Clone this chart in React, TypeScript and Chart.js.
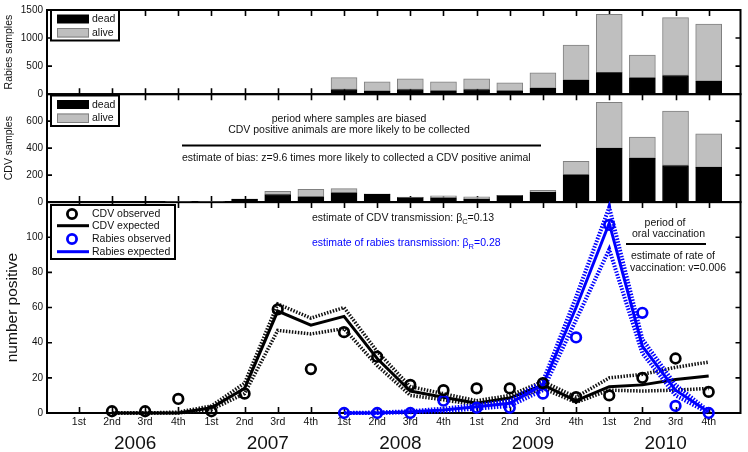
import React, { useEffect, useRef } from 'react';
import { Chart, registerables } from 'chart.js';
Chart.register(...registerables);

const FONT = '"Liberation Sans", Arial, Helvetica, sans-serif';

// x index 0 = 2006 1st quarter ... 19 = 2010 4th quarter
const QUARTERS = ['1st', '2nd', '3rd', '4th', '1st', '2nd', '3rd', '4th', '1st', '2nd', '3rd', '4th', '1st', '2nd', '3rd', '4th', '1st', '2nd', '3rd', '4th'];
const YEARS = ['2006', '2007', '2008', '2009', '2010'];

const RABIES_TICKS = [0, 500, 1000, 1500];
const CDV_TICKS = [0, 200, 400, 600];
const POS_TICKS = [0, 20, 40, 60, 80, 100];

// top panel: rabies samples
const RABIES_DEAD = [null, null, null, null, null, null, null, null, 83, 53, 83, 60, 83, 60, 106, 248, 385, 291, 332, 230];
const RABIES_ALIVE = [null, null, null, null, null, null, null, null, 213, 167, 190, 160, 190, 140, 274, 628, 1040, 407, 1033, 1018];

// middle panel: CDV samples
const CDV_DEAD = [0, 0, 0, 3, 3, 22, 56, 39, 68, 58, 33, 32, 22, 48, 73, 203, 398, 325, 271, 257];
const CDV_ALIVE = [0, 0, 0, 1, 1, 1, 24, 56, 32, 4, 5, 14, 17, 2, 15, 100, 342, 156, 403, 249];

// bottom panel: number positive
const CDV_OBS = [null, 1, 1, 8, 1, 11, 59, 25, 46, 32, 16, 13, 14, 14, 17, 9, 10, 20, 31, 12];
const CDV_EXP = [null, 0, 0, 0, 3, 14, 58, 50, 55, 31, 12.5, 9, 5.5, 8.5, 16, 7, 15, 16, 19, 21];
const CDV_UP = [null, 0, 0, 0.5, 4, 17, 62, 54, 60, 35, 15, 11, 7, 10, 18, 9, 20, 22, 26, 29];
const CDV_LO = [null, 0, 0, 0, 2, 11, 47, 45, 48, 27, 10, 7.5, 4.5, 7, 14, 6, 13, 12.5, 13, 14];

const RAB_OBS = [null, null, null, null, null, null, null, null, 0, 0, 0, 7, 3, 3, 11, 43, 107, 57, 4, 0];
const RAB_EXP = [null, null, null, null, null, null, null, null, 0, 0, 0.7, 1.7, 3.5, 5.5, 16, 60, 108, 38, 13, 0.5];
const RAB_UP = [null, null, null, null, null, null, null, null, 0, 0.3, 1, 2.5, 4.5, 7, 18, 66, 117, 42, 16, 1];
const RAB_LO = [null, null, null, null, null, null, null, null, 0, 0, 0.4, 1, 2.5, 4, 13, 53, 93, 34, 10, 0];

const BLUE = '#0000ff';
const GREY = '#bfbfbf';

function pts(arr: (number | null)[]) {
  const out: { x: number; y: number }[] = [];
  arr.forEach((v, i) => { if (v !== null) out.push({ x: i, y: v }); });
  return out;
}

function txt(ctx: CanvasRenderingContext2D, s: string, x: number, y: number, size: number, color: string, align: CanvasTextAlign = 'left') {
  ctx.font = `${size}px ${FONT}`;
  ctx.fillStyle = color;
  ctx.textAlign = align;
  ctx.textBaseline = 'middle';
  ctx.fillText(s, x, y);
  return ctx.measureText(s).width;
}

function subText(ctx: CanvasRenderingContext2D, a: string, sub: string, b: string, x: number, y: number, size: number, color: string) {
  let cx = x;
  cx += txt(ctx, a, cx, y, size, color);
  cx += txt(ctx, sub, cx, y + 3.5, size * 0.72, color);
  txt(ctx, b, cx, y, size, color);
}

function hline(ctx: CanvasRenderingContext2D, x1: number, x2: number, y: number, w: number) {
  ctx.beginPath();
  ctx.lineWidth = w;
  ctx.strokeStyle = '#000';
  ctx.moveTo(x1, y);
  ctx.lineTo(x2, y);
  ctx.stroke();
}

const framePlugin = {
  id: 'frames',
  beforeDatasetsDraw(chart: any) {
    const ctx: CanvasRenderingContext2D = chart.ctx;
    const xs = chart.scales.x;
    const { left, right } = chart.chartArea;
    ctx.save();
    ctx.strokeStyle = '#000';
    for (const id of ['yR', 'yC', 'yN']) {
      const ys = chart.scales[id];
      const top = ys.top, bottom = ys.bottom;
      ctx.lineWidth = 2;
      ctx.strokeRect(left, top, right - left, bottom - top);
      ctx.lineWidth = 1.6;
      ctx.beginPath();
      for (let i = 0; i < QUARTERS.length; i++) {
        const px = Math.round(xs.getPixelForValue(i)) + 0.5;
        ctx.moveTo(px, top); ctx.lineTo(px, top + 6);
        ctx.moveTo(px, bottom); ctx.lineTo(px, bottom - 6);
      }
      for (const t of ys.ticks) {
        const py = ys.getPixelForValue(t.value);
        ctx.moveTo(left, py); ctx.lineTo(left + 5, py);
        ctx.moveTo(right, py); ctx.lineTo(right - 5, py);
      }
      ctx.stroke();
    }
    ctx.restore();
  },
  afterDraw(chart: any) {
    const ctx: CanvasRenderingContext2D = chart.ctx;
    ctx.save();
    const fs = 10.5;
    const legendBars = (y0: number, y1: number) => {
      ctx.fillStyle = '#fff';
      ctx.fillRect(51, y0, 68, y1 - y0);
      ctx.lineWidth = 2;
      ctx.strokeStyle = '#000';
      ctx.strokeRect(51, y0, 68, y1 - y0);
      ctx.fillStyle = '#000';
      ctx.fillRect(57, y0 + 4.5, 32, 9);
      ctx.fillStyle = GREY;
      ctx.fillRect(57, y0 + 18, 32, 9.5);
      ctx.lineWidth = 1;
      ctx.strokeStyle = '#808080';
      ctx.strokeRect(57.5, y0 + 18.5, 31, 8.5);
      txt(ctx, 'dead', 92, y0 + 9.5, fs, '#111');
      txt(ctx, 'alive', 92, y0 + 22.8, fs, '#111');
    };
    legendBars(10, 40.5);
    legendBars(95.5, 126);

    ctx.fillStyle = '#fff';
    ctx.fillRect(51, 205, 124, 54);
    ctx.lineWidth = 2;
    ctx.strokeStyle = '#000';
    ctx.strokeRect(51, 205, 124, 54);
    const circ = (y: number, c: string) => {
      ctx.beginPath();
      ctx.lineWidth = 2.8;
      ctx.strokeStyle = c;
      ctx.arc(72, y, 4.6, 0, Math.PI * 2);
      ctx.stroke();
    };
    const ln = (y: number, c: string) => {
      ctx.beginPath();
      ctx.lineWidth = 3;
      ctx.strokeStyle = c;
      ctx.moveTo(57, y); ctx.lineTo(89, y);
      ctx.stroke();
    };
    circ(214, '#000');
    ln(225.7, '#000');
    circ(239, BLUE);
    ln(251.7, BLUE);
    txt(ctx, 'CDV observed', 92, 214, fs, '#111');
    txt(ctx, 'CDV expected', 92, 225.7, fs, '#111');
    txt(ctx, 'Rabies observed', 92, 239, fs, '#111');
    txt(ctx, 'Rabies expected', 92, 251.7, fs, '#111');

    txt(ctx, 'period where samples are biased', 349, 119, fs, '#111', 'center');
    txt(ctx, 'CDV positive animals are more likely to be collected', 349, 130.5, fs, '#111', 'center');
    hline(ctx, 182, 541, 145.5, 2);
    txt(ctx, 'estimate of bias: z=9.6 times more likely to collected a CDV positive animal', 182, 158, fs, '#111');

    subText(ctx, 'estimate of CDV transmission: \u03b2', 'C', '=0.13', 312, 218.5, fs, '#111');
    subText(ctx, 'estimate of rabies transmission: \u03b2', 'R', '=0.28', 312, 243, fs, BLUE);
    txt(ctx, 'period of', 665, 223.5, fs, '#111', 'center');
    txt(ctx, 'oral vaccination', 668.5, 234.5, fs, '#111', 'center');
    hline(ctx, 626, 706, 244, 2);
    txt(ctx, 'estimate of rate of', 631, 256.5, fs, '#111');
    txt(ctx, 'vaccination: v=0.006', 630, 268.5, fs, '#111');
    ctx.restore();
  },
};

const tickFont = { family: FONT, size: 10 };

function yScale(opts: any) {
  const { ticksArr, ...rest } = opts;
  return {
    type: 'linear',
    position: 'left',
    stack: 'panels',
    afterBuildTicks: (s: any) => { s.ticks = ticksArr.map((v: number) => ({ value: v })); },
    afterFit: (s: any) => { s.width = 47; },
    ticks: { padding: 4, color: '#111', font: tickFont, autoSkip: false, callback: (v: any) => String(v) },
    grid: { display: false, drawTicks: false },
    border: { display: false },
    ...rest,
  };
}

export default function App() {
  const ref = useRef<HTMLCanvasElement>(null);
  useEffect(() => {
    const band = (data: (number | null)[], color: string, w: number, order: number) => ({
      type: 'line', data: pts(data), yAxisID: 'yN', borderColor: color, borderWidth: w,
      borderDash: [1.5, 1.5], pointRadius: 0, fill: false, tension: 0, clip: false, order,
    });
    const mid = (data: (number | null)[], color: string, order: number) => ({
      type: 'line', data: pts(data), yAxisID: 'yN', borderColor: color, borderWidth: 3,
      pointRadius: 0, fill: false, tension: 0, clip: false, order,
    });
    const obs = (data: (number | null)[], color: string, order: number) => ({
      type: 'line', data: pts(data), yAxisID: 'yN', showLine: false, pointRadius: 4.8,
      pointBorderWidth: 2.7, pointBorderColor: color, pointBackgroundColor: 'rgba(0,0,0,0)',
      borderColor: color, clip: false, order,
    });
    const bar = (data: (number | null)[], axis: string, stack: string, bg: string, bc: string) => ({
      type: 'bar', data: pts(data), yAxisID: axis, stack, backgroundColor: bg, borderColor: bc,
      borderWidth: 1, borderSkipped: false, grouped: false, barThickness: 26, order: 20,
    });
    const chart = new Chart(ref.current as HTMLCanvasElement, {
      type: 'bar',
      data: {
        datasets: [
          obs(CDV_OBS, '#000', 0),
          obs(RAB_OBS, BLUE, 0),
          mid(RAB_EXP, BLUE, 2),
          band(RAB_UP, BLUE, 4, 3),
          band(RAB_LO, BLUE, 4, 3),
          mid(CDV_EXP, '#000', 4),
          band(CDV_UP, '#111', 3.5, 5),
          band(CDV_LO, '#111', 3.5, 5),
          bar(RABIES_DEAD, 'yR', 'r', '#000', '#000'),
          bar(RABIES_ALIVE, 'yR', 'r', GREY, '#808080'),
          bar(CDV_DEAD, 'yC', 'c', '#000', '#000'),
          bar(CDV_ALIVE, 'yC', 'c', GREY, '#808080'),
        ] as any,
      },
      options: {
        animation: false,
        responsive: false,
        maintainAspectRatio: false,
        devicePixelRatio: 1,
        layout: { padding: { top: 6, right: 5, left: 0, bottom: 0 } },
        plugins: { legend: { display: false }, tooltip: { enabled: false } },
        scales: {
          x: {
            type: 'linear', position: 'bottom', min: -0.96, max: 19.96, offset: false, weight: 0,
            afterBuildTicks: (s: any) => { s.ticks = QUARTERS.map((_, i) => ({ value: i })); },
            afterFit: (s: any) => { s.height = 16; },
            ticks: { autoSkip: false, maxRotation: 0, padding: 3, color: '#111', font: { family: FONT, size: 10.5 },
              callback: (_v: any, i: number) => QUARTERS[i] },
            grid: { display: false, drawTicks: false }, border: { display: false },
          },
          x2: {
            type: 'linear', position: 'bottom', min: -0.96, max: 19.96, offset: false, weight: 1,
            afterBuildTicks: (s: any) => { s.ticks = YEARS.map((_, i) => ({ value: i * 4 + 1.7 })); },
            afterFit: (s: any) => { s.height = 23; },
            ticks: { autoSkip: false, maxRotation: 0, padding: 3, color: '#111', font: { family: FONT, size: 19 },
              callback: (_v: any, i: number) => YEARS[i] },
            grid: { display: false, drawTicks: false }, border: { display: false },
          },
          yR: yScale({ ticksArr: RABIES_TICKS, min: 0, max: 1500, stacked: true, stackWeight: 85, weight: 3,
            title: { display: true, text: 'Rabies samples', color: '#111', font: { family: FONT, size: 10.5 }, padding: { top: 3, bottom: 0 } } }),
          yC: yScale({ ticksArr: CDV_TICKS, min: 0, max: 800, stacked: true, stackWeight: 109, weight: 2,
            title: { display: true, text: 'CDV samples', color: '#111', font: { family: FONT, size: 10.5 }, padding: { top: 3, bottom: 0 } } }),
          yN: yScale({ ticksArr: POS_TICKS, min: 0, max: 120, stackWeight: 213, weight: 1,
            title: { display: true, text: 'number positive', color: '#111', font: { family: FONT, size: 15.5 }, padding: { top: 3, bottom: 0 } } }),
        } as any,
      },
      plugins: [framePlugin],
    } as any);
    return () => chart.destroy();
  }, []);
  return (
    <div style={{ position: 'fixed', left: 0, top: 0, width: 748, height: 452, background: '#fff' }}>
      <canvas ref={ref} width={748} height={452} style={{ width: 748, height: 452, display: 'block' }} />
    </div>
  );
}
